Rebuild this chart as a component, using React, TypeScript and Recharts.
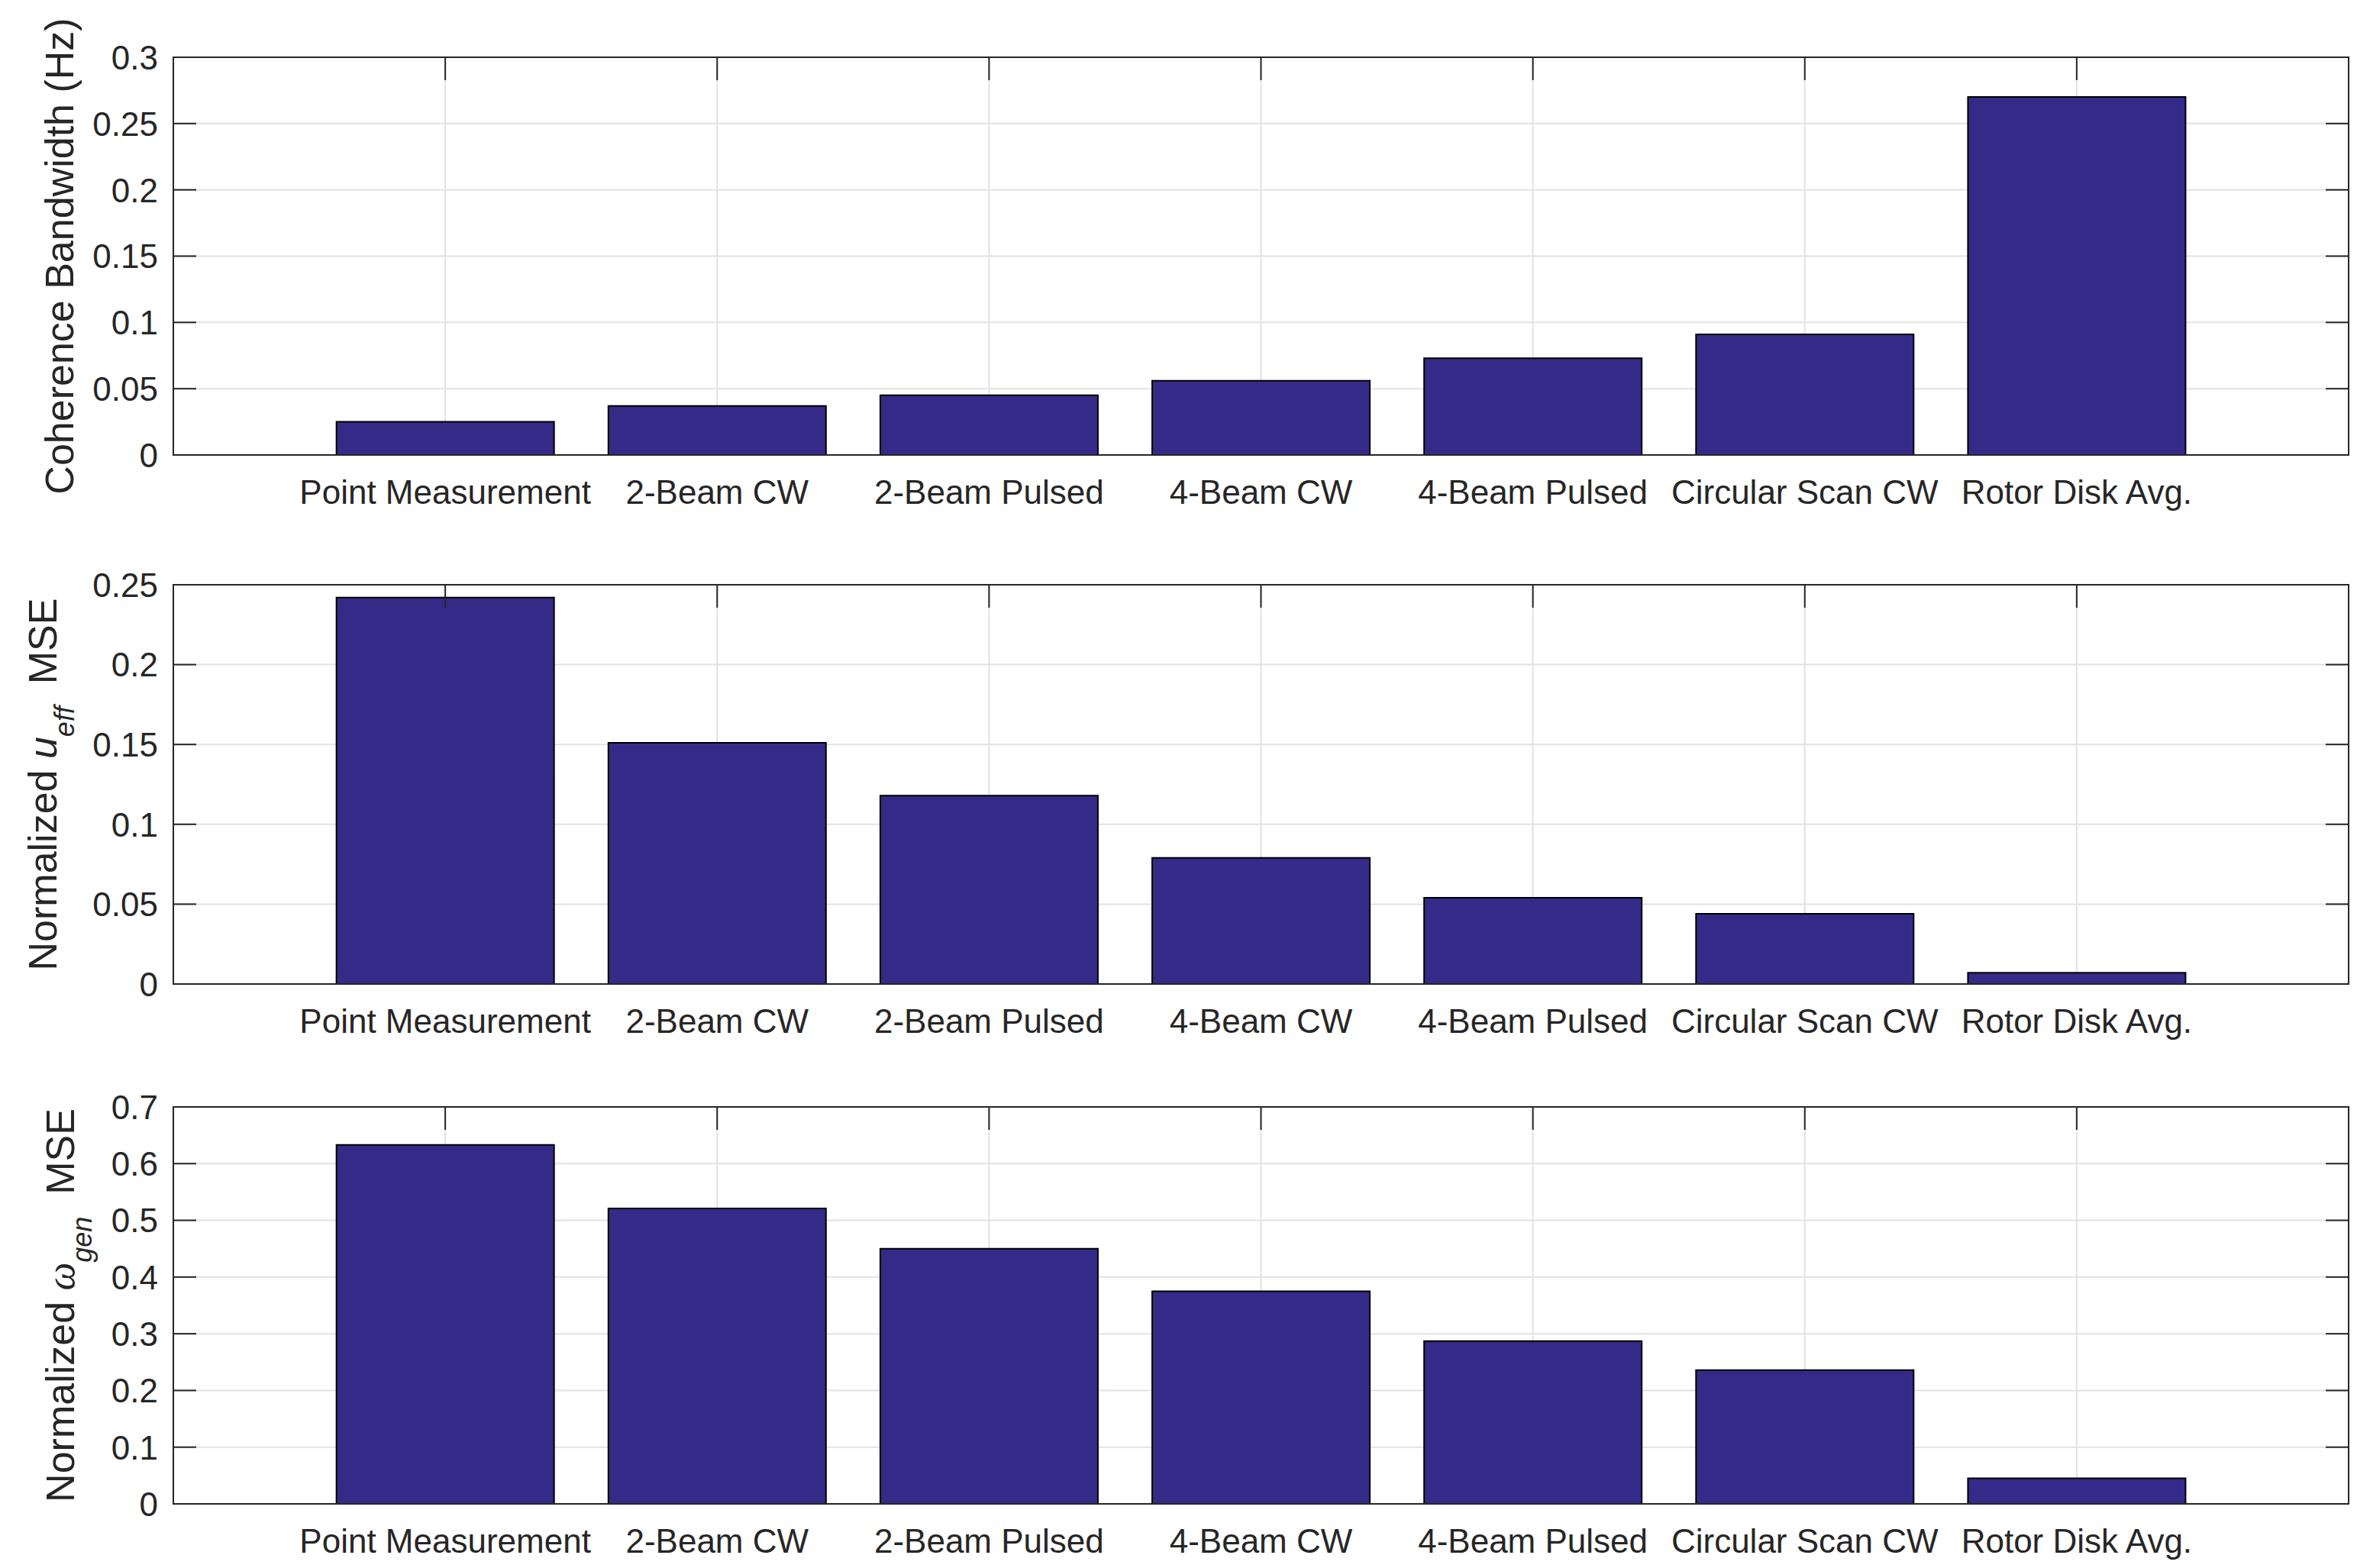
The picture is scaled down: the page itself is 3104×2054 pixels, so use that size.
import React from 'react';
import { BarChart, Bar, XAxis, YAxis, CartesianGrid } from 'recharts';

const categories = [
  'Point Measurement',
  '2-Beam CW',
  '2-Beam Pulsed',
  '4-Beam CW',
  '4-Beam Pulsed',
  'Circular Scan CW',
  'Rotor Disk Avg.',
];
const coherenceBandwidth = [0.025, 0.037, 0.045, 0.056, 0.073, 0.091, 0.27];
const ueffMSE = [0.242, 0.151, 0.118, 0.079, 0.054, 0.044, 0.007];
const wgenMSE = [0.633, 0.521, 0.45, 0.375, 0.287, 0.236, 0.045];

const ticksTop = [0, 0.05, 0.1, 0.15, 0.2, 0.25, 0.3];
const ticksMid = [0, 0.05, 0.1, 0.15, 0.2, 0.25];
const ticksBot = [0, 0.1, 0.2, 0.3, 0.4, 0.5, 0.6, 0.7];

const FONT = '"Liberation Sans", Arial, Helvetica, sans-serif';
const INK = '#262626';
const BAR_FILL = '#352A87';
const GRID = '#e2e2e2';
const PAGE_W = 3104;
const PLOT_LEFT = 227;
const PLOT_RIGHT = 3076;
const PLOT_W = PLOT_RIGHT - PLOT_LEFT;
const TICK_LEN = 30;
const YW = 100;
const XH = 80;

type Part = { t: string; italic?: boolean; sub?: boolean; serif?: boolean };

function Panel(props: {
  top: number;
  plotTop: number;
  plotBottom: number;
  values: number[];
  ticks: number[];
  labelParts: Part[];
  labelX: number;
}) {
  const { top, plotTop, plotBottom, values, ticks, labelParts, labelX } = props;
  const data = categories.map((c, i) => ({ name: c, value: values[i] }));
  const H = plotBottom - top + 120;
  const plotH = plotBottom - plotTop;
  const pad = PLOT_W / 16;
  const labelY = (plotTop + plotBottom) / 2 - top;

  const XTick = (p: any) => {
    const { x, y, payload } = p;
    return (
      <g>
        <line x1={x} x2={x} y1={y - plotH} y2={y - plotH + TICK_LEN} stroke={INK} strokeWidth={2} />
        <text x={x} y={y + 64} textAnchor="middle" fill={INK} fontSize={44} fontFamily={FONT}>
          {payload.value}
        </text>
      </g>
    );
  };

  const YTick = (p: any) => {
    const { x, y, payload } = p;
    return (
      <g>
        <line x1={x} x2={x + TICK_LEN} y1={y} y2={y} stroke={INK} strokeWidth={2} />
        <line x1={x + PLOT_W - TICK_LEN} x2={x + PLOT_W} y1={y} y2={y} stroke={INK} strokeWidth={2} />
        <text x={x - 20} y={y} dy="0.36em" textAnchor="end" fill={INK} fontSize={44} fontFamily={FONT}>
          {String(payload.value)}
        </text>
      </g>
    );
  };

  const YLabel = () => {
    const SUB = 23;
    return (
      <text
        transform={`translate(${labelX},${labelY}) rotate(-90)`}
        x={0}
        y={0}
        textAnchor="middle"
        fill={INK}
        fontSize={52}
        fontFamily={FONT}
      >
        {labelParts.map((pt, i) => {
          const prevSub = i > 0 && labelParts[i - 1].sub;
          let dy = 0;
          if (pt.sub) dy = SUB;
          else if (prevSub) dy = -SUB;
          return (
            <tspan
              key={i}
              dy={dy}
              fontStyle={pt.italic ? 'italic' : 'normal'}
              fontSize={pt.sub ? 36 : 52}
              fontFamily={pt.serif ? '"Liberation Serif", "DejaVu Serif", serif' : FONT}
            >
              {pt.t}
            </tspan>
          );
        })}
      </text>
    );
  };

  return (
    <div style={{ position: 'absolute', left: 0, top, width: PAGE_W, height: H }}>
      <BarChart
        width={PAGE_W}
        height={H}
        data={data}
        margin={{ top: plotTop - top, right: PAGE_W - PLOT_RIGHT, left: PLOT_LEFT - YW, bottom: 120 - XH }}
        barCategoryGap="10%"
      >
        <CartesianGrid stroke={GRID} strokeWidth={2} />
        <XAxis
          dataKey="name"
          type="category"
          padding={{ left: pad, right: pad }}
          height={XH}
          axisLine={false}
          tickLine={false}
          tickSize={0}
          tickMargin={0}
          interval={0}
          tick={XTick}
        />
        <YAxis
          type="number"
          domain={[ticks[0], ticks[ticks.length - 1]]}
          ticks={ticks}
          width={YW}
          axisLine={false}
          tickLine={false}
          tickSize={0}
          tickMargin={0}
          interval={0}
          tick={YTick}
          allowDataOverflow
          label={() => <YLabel />}
        />
        <Bar dataKey="value" fill={BAR_FILL} stroke="#000000" strokeWidth={2} isAnimationActive={false} />
      </BarChart>
      <div
        style={{
          position: 'absolute',
          left: PLOT_LEFT - 1,
          top: plotTop - top - 1,
          width: PLOT_W + 2,
          height: plotH + 2,
          border: `2px solid ${INK}`,
          boxSizing: 'border-box',
          pointerEvents: 'none',
        }}
      />
    </div>
  );
}

export default function App() {
  return (
    <div style={{ position: 'absolute', left: 0, top: 0, width: PAGE_W, height: 2054, background: '#ffffff' }}>
      <Panel
        top={0}
        plotTop={75}
        plotBottom={596}
        values={coherenceBandwidth}
        ticks={ticksTop}
        labelX={96}
        labelParts={[{ t: 'Coherence Bandwidth (Hz)' }]}
      />
      <Panel
        top={690}
        plotTop={766}
        plotBottom={1289}
        values={ueffMSE}
        ticks={ticksMid}
        labelX={74}
        labelParts={[
          { t: 'Normalized ' },
          { t: 'u', italic: true },
          { t: 'eff', italic: true, sub: true },
          { t: '\u00a0\u00a0MSE' },
        ]}
      />
      <Panel
        top={1380}
        plotTop={1450}
        plotBottom={1970}
        values={wgenMSE}
        ticks={ticksBot}
        labelX={97}
        labelParts={[
          { t: 'Normalized ' },
          { t: '\u03c9', italic: true, serif: true },
          { t: 'gen', italic: true, sub: true },
          { t: '\u00a0\u00a0MSE' },
        ]}
      />
    </div>
  );
}
